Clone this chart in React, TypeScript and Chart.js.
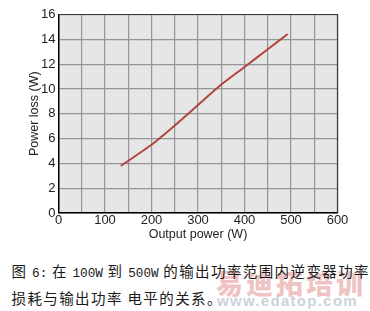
import React, { useEffect, useRef } from "react";
import { Chart, registerables } from "chart.js";

Chart.register(...registerables);

const outputPower = [134, 200, 250, 300, 345, 400, 450, 493];
const powerLoss = [3.8, 5.5, 7.05, 8.7, 10.2, 11.77, 13.2, 14.43];
const xTickValues = [0, 100, 200, 300, 400, 500, 600];
const yTickValues = [0, 2, 4, 6, 8, 10, 12, 14, 16];
const xTitle = "Output power (W)";
const yTitle = "Power loss (W)";
const captionLine1 = "图 6: 在 100W 到 500W 的输出功率范围内逆变器功率";
const captionLine2 = "损耗与输出功率 电平的关系。";
const watermark1 = "易迪拓培训";
const watermark2 = "www.edatop.com";

const bgPlugin = {
  id: "plotBg",
  beforeDraw(chart: any) {
    const { ctx, chartArea } = chart;
    ctx.save();
    ctx.fillStyle = "#e6e6e6";
    ctx.fillRect(chartArea.left, chartArea.top, chartArea.right - chartArea.left, chartArea.bottom - chartArea.top);
    ctx.restore();
  },
  afterDatasetsDraw(chart: any) {
    const { ctx, chartArea } = chart;
    ctx.save();
    ctx.strokeStyle = "#3a3a3a";
    ctx.lineWidth = 1.2;
    ctx.beginPath();
    ctx.moveTo(chartArea.left, chartArea.top);
    ctx.lineTo(chartArea.right, chartArea.top);
    ctx.lineTo(chartArea.right, chartArea.bottom);
    ctx.stroke();
    ctx.restore();
  },
};

// Render ASCII runs in a monospace face, CJK in Noto Sans CJK
function renderCaption(text: string) {
  const parts = text.split(/([A-Za-z0-9:]+)/);
  return parts.map((p, i) =>
    /^[A-Za-z0-9:]+$/.test(p) ? (
      <span key={i} style={{ fontFamily: "'Liberation Mono'", fontSize: 12.7, letterSpacing: 0 }}>
        {p}
      </span>
    ) : (
      <span key={i}>{p}</span>
    )
  );
}

export default function App() {
  const ref = useRef<HTMLCanvasElement>(null);
  useEffect(() => {
    if (!ref.current) return;
    const chart = new Chart(ref.current, {
      type: "line",
      data: {
        datasets: [
          {
            data: outputPower.map((x, i) => ({ x, y: powerLoss[i] })),
            borderColor: "#b0473f",
            borderWidth: 2,
            pointRadius: 0,
            tension: 0.25,
            fill: false,
          },
        ],
      },
      plugins: [bgPlugin],
      options: {
        animation: false,
        responsive: false,
        devicePixelRatio: 1,
        layout: { padding: { left: 0, right: 32.5, top: 14.5, bottom: 0 } },
        plugins: { legend: { display: false }, tooltip: { enabled: false } },
        scales: {
          x: {
            type: "linear",
            min: xTickValues[0],
            max: xTickValues[xTickValues.length - 1],
            afterFit: (s: any) => {
              s.height = 32;
            },
            afterBuildTicks: (s: any) => {
              const t: any[] = [];
              for (let v = xTickValues[0]; v <= xTickValues[xTickValues.length - 1]; v += 50) t.push({ value: v });
              s.ticks = t;
            },
            ticks: {
              autoSkip: false,
              maxRotation: 0,
              padding: 0,
              color: "#222",
              font: { family: "Liberation Sans", size: 13 },
              callback: (v: any) => (xTickValues.includes(Number(v)) ? String(v) : ""),
            },
            grid: { color: "#959595", lineWidth: 1.2, drawTicks: false },
            border: { color: "#000", width: 1.5 },
            title: {
              display: true,
              text: xTitle,
              color: "#222",
              font: { family: "Liberation Sans", size: 12.5 },
              padding: { top: 0, bottom: 2.5 },
            },
          },
          y: {
            type: "linear",
            min: yTickValues[0],
            max: yTickValues[yTickValues.length - 1],
            afterFit: (s: any) => {
              s.width = 58.5;
            },
            afterBuildTicks: (s: any) => {
              s.ticks = yTickValues.map((v) => ({ value: v }));
            },
            ticks: {
              padding: 3,
              color: "#222",
              font: { family: "Liberation Sans", size: 13 },
            },
            grid: { color: "#959595", lineWidth: 1.2, drawTicks: false },
            border: { color: "#000", width: 1.5 },
            title: {
              display: true,
              text: yTitle,
              color: "#222",
              font: { family: "Liberation Sans", size: 12.5 },
              padding: { top: 27.5, bottom: 0 },
            },
          },
        },
      },
    });
    return () => chart.destroy();
  }, []);

  return (
    <div style={{ position: "fixed", left: 0, top: 0, width: 370, height: 311, background: "#fff", overflow: "hidden" }}>
      <canvas ref={ref} width={370} height={245} style={{ position: "absolute", left: 0, top: 0, width: 370, height: 245 }} />
      <div
        style={{
          position: "absolute",
          left: 216,
          top: 268,
          fontFamily: "Noto Sans CJK SC",
          fontWeight: 900,
          fontSize: 27,
          letterSpacing: 3,
          color: "rgba(220,120,120,0.45)",
          lineHeight: "30px",
          whiteSpace: "nowrap",
        }}
      >
        {watermark1}
      </div>
      <div
        style={{
          position: "absolute",
          left: 217,
          top: 293,
          fontFamily: "Liberation Sans",
          fontWeight: 700,
          fontSize: 15,
          letterSpacing: 1.3,
          color: "rgba(150,165,180,0.5)",
          lineHeight: "16px",
          whiteSpace: "nowrap",
        }}
      >
        {watermark2}
      </div>
      <div
        style={{
          position: "absolute",
          left: 11.5,
          top: 258.5,
          fontFamily: "'Noto Sans CJK SC'",
          fontSize: 14.5,
          letterSpacing: 1.4,
          lineHeight: "24px",
          color: "#1a1a1a",
          whiteSpace: "nowrap",
        }}
      >
        <div>{renderCaption(captionLine1)}</div>
        <div>{renderCaption(captionLine2)}</div>
      </div>
    </div>
  );
}
